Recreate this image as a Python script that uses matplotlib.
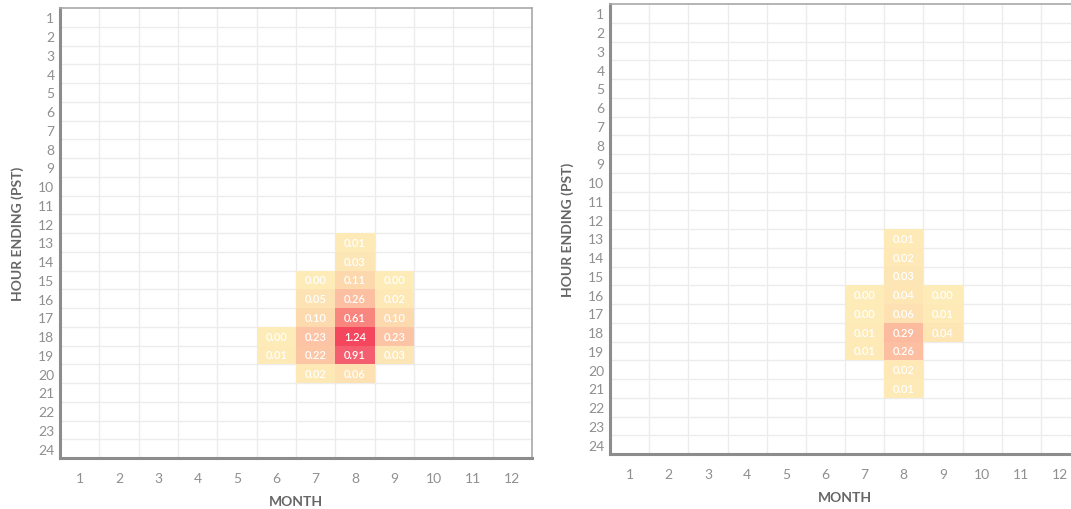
"""
Hourly x monthly heatmaps (hour ending PST vs month), two panels side by side
"""

import numpy as np
import matplotlib.pyplot as plt
from matplotlib.colors import LinearSegmentedColormap

months = list(range(1, 13))
hours = list(range(1, 25))

# (month, hour, value) for the non-empty cells, left panel
left_cells = [
    (6, 18, 0.00), (6, 19, 0.01),
    (7, 15, 0.00), (7, 16, 0.05), (7, 17, 0.10), (7, 18, 0.23), (7, 19, 0.22), (7, 20, 0.02),
    (8, 13, 0.01), (8, 14, 0.03), (8, 15, 0.11), (8, 16, 0.26), (8, 17, 0.61), (8, 18, 1.24),
    (8, 19, 0.91), (8, 20, 0.06),
    (9, 15, 0.00), (9, 16, 0.02), (9, 17, 0.10), (9, 18, 0.23), (9, 19, 0.03),
]

# right panel
right_cells = [
    (7, 16, 0.00), (7, 17, 0.00), (7, 18, 0.01), (7, 19, 0.01),
    (8, 13, 0.01), (8, 14, 0.02), (8, 15, 0.03), (8, 16, 0.04), (8, 17, 0.06), (8, 18, 0.29),
    (8, 19, 0.26), (8, 20, 0.02), (8, 21, 0.01),
    (9, 16, 0.00), (9, 17, 0.01), (9, 18, 0.04),
]

plt.rcParams['font.family'] = ['Lato', 'DejaVu Sans']

cmap = LinearSegmentedColormap.from_list(
    'heat', [(0.0, '#fdecb8'), (0.08, '#fdd9ae'), (0.19, '#fcc3a4'),
             (0.49, '#f9857f'), (0.73, '#f45e6e'), (1.0, '#f4465c')], N=256)
vmax = 1.24

tick_col = '#8f8f8f'
frame_col = '#8c8c8c'
grid_col = '#ececec'


def to_grid(cells):
    grid = np.full((len(hours), len(months)), np.nan)
    for m, h, v in cells:
        grid[h - 1, m - 1] = v
    return grid


def draw_panel(ax, cells, show_ylabel=True):
    grid = np.ma.masked_invalid(to_grid(cells))
    x_edges = np.arange(0.5, 13.5, 1)
    y_edges = np.arange(0.5, 25.5, 1)
    ax.pcolormesh(x_edges, y_edges, grid, cmap=cmap, vmin=0, vmax=vmax,
                  edgecolors='none', zorder=2)
    ax.set_xlim(0.5, 12.5)
    ax.set_ylim(24.5, 0.5)

    # light grid on cell borders
    for x in x_edges[1:-1]:
        ax.axvline(x, color=grid_col, lw=1.0, zorder=1)
    for y in y_edges[1:-1]:
        ax.axhline(y, color=grid_col, lw=1.0, zorder=1)

    for m, h, v in cells:
        ax.text(m, h, f'{v:.2f}', ha='center', va='center', color='white',
                fontsize=8, fontweight='semibold', zorder=3)

    ax.set_xticks(months)
    ax.set_yticks(hours)
    ax.tick_params(length=0, colors=tick_col, labelsize=10)
    ax.tick_params(axis='x', pad=10)
    ax.tick_params(axis='y', pad=4)
    for s in ax.spines.values():
        s.set_color(frame_col)
        s.set_linewidth(1.2)
    ax.spines['left'].set_linewidth(2.2)
    ax.spines['bottom'].set_linewidth(2.2)
    ax.spines['top'].set_color('#a8a8a8')
    ax.spines['right'].set_color('#a8a8a8')

    ax.set_xlabel('MONTH', fontsize=10, fontweight='bold', color='#666666', labelpad=8)
    if show_ylabel:
        ax.set_ylabel('HOUR ENDING (PST)', fontsize=10, fontweight='bold',
                      color='#666666', labelpad=10)


fig = plt.figure(figsize=(10.71, 5.10), dpi=100)
ax1 = fig.add_axes([60 / 1071, 51 / 510, 472 / 1071, 450 / 510])
ax2 = fig.add_axes([610 / 1071, 55 / 510, 470 / 1071, 450 / 510])

draw_panel(ax1, left_cells)
draw_panel(ax2, right_cells)

fig.savefig('out.png', dpi=100)
